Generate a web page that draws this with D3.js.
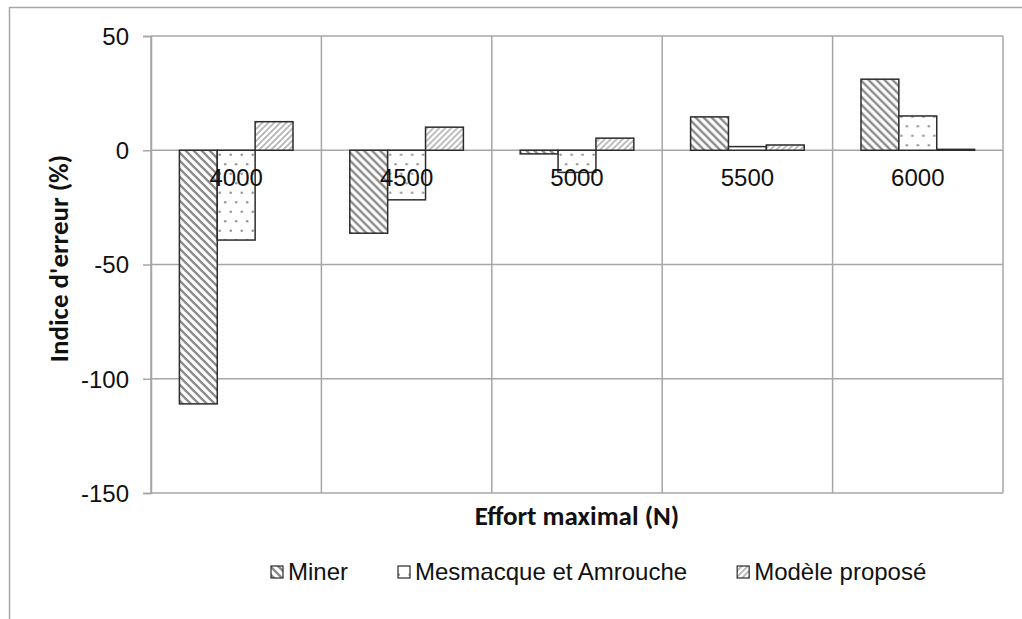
<!DOCTYPE html>
<html>
<head>
<meta charset="utf-8">
<script src="https://cdn.jsdelivr.net/npm/d3@7"></script>
<style>
  body { margin: 0; background: #fff; }
  svg { display: block; }
  .tick-label, .cat-label, .legend-label { font-family: 'Liberation Sans', Arial, sans-serif; font-size: 24px; fill: #111; }
  .axis-title { font-family: Carlito, Lato, 'Liberation Sans', sans-serif; font-weight: bold; font-size: 27px; fill: #111; }
</style>
</head>
<body>
<div id="chart"></div>
<script>
// Values
const categories = ['4000', '4500', '5000', '5500', '6000'];
const seriesNames = ['Miner', 'Mesmacque et Amrouche', 'Modèle proposé'];
const minerValues = [-111, -36.3, -1.6, 14.6, 31.1];
const mesmacqueValues = [-39.3, -21.7, -9.7, 1.6, 15.0];
const modeleValues = [12.5, 10.1, 5.3, 2.3, 0.4];
const yTicks = [50, 0, -50, -100, -150];

class GroupedBarChart {
    constructor(config) {
        this.config = {
            parentElement: config.parentElement,
            containerWidth: 1022,
            containerHeight: 619,
            margin: { top: 36, right: 19, bottom: 126, left: 151 }
        };
        this.initVis();
    }

    initVis() {
        let vis = this;

        vis.width = vis.config.containerWidth - vis.config.margin.left - vis.config.margin.right;
        vis.height = vis.config.containerHeight - vis.config.margin.top - vis.config.margin.bottom;

        vis.svg = d3.select(vis.config.parentElement)
            .append('svg')
            .attr('width', vis.config.containerWidth)
            .attr('height', vis.config.containerHeight);

        // Fill patterns (Excel style hatching)
        const defs = vis.svg.append('defs');

        const p0 = defs.append('pattern')
            .attr('id', 'pat-miner')
            .attr('patternUnits', 'userSpaceOnUse')
            .attr('width', 8).attr('height', 8);
        p0.append('rect').attr('width', 8).attr('height', 8).attr('fill', '#fff');
        p0.append('path')
            .attr('d', 'M0,0 L8,8 M-4,4 L4,12 M4,-4 L12,4')
            .attr('stroke', '#8c8c8c')
            .attr('stroke-width', 2.4);

        const p1 = defs.append('pattern')
            .attr('id', 'pat-mesmacque')
            .attr('patternUnits', 'userSpaceOnUse')
            .attr('width', 11).attr('height', 19);
        p1.append('rect').attr('width', 11).attr('height', 19).attr('fill', '#fff');
        p1.append('circle').attr('cx', 2.75).attr('cy', 4.75).attr('r', 1.3).attr('fill', '#999');
        p1.append('circle').attr('cx', 8.25).attr('cy', 14.25).attr('r', 1.3).attr('fill', '#999');

        const p2 = defs.append('pattern')
            .attr('id', 'pat-modele')
            .attr('patternUnits', 'userSpaceOnUse')
            .attr('width', 6).attr('height', 6);
        p2.append('rect').attr('width', 6).attr('height', 6).attr('fill', '#fff');
        p2.append('path')
            .attr('d', 'M0,6 L6,0 M-3,3 L3,-3 M3,9 L9,3')
            .attr('stroke', '#b3b3b3')
            .attr('stroke-width', 1.6);

        vis.fills = ['url(#pat-miner)', 'url(#pat-mesmacque)', 'url(#pat-modele)'];

        // Outer chart border (cropped on right and bottom)
        vis.svg.append('rect')
            .attr('x', 9.5).attr('y', 7.5)
            .attr('width', 1100).attr('height', 700)
            .attr('fill', 'none')
            .attr('stroke', '#a6a6a6')
            .attr('stroke-width', 1.5);

        vis.chart = vis.svg.append('g')
            .attr('transform', `translate(${vis.config.margin.left},${vis.config.margin.top})`);

        vis.xScale = d3.scaleBand()
            .domain(categories)
            .range([0, vis.width])
            .padding(0);

        vis.xSub = d3.scaleBand()
            .domain(seriesNames)
            .range([0, vis.xScale.bandwidth()])
            .paddingInner(0)
            .paddingOuter(0.75);

        vis.yScale = d3.scaleLinear()
            .domain([-150, 50])
            .range([vis.height, 0]);

        vis.yAxis = d3.axisLeft(vis.yScale)
            .tickValues(yTicks)
            .tickSize(8)
            .tickPadding(14)
            .tickFormat(d => String(d));

        vis.gridG = vis.chart.append('g').attr('class', 'grid');
        vis.barsG = vis.chart.append('g').attr('class', 'bars');
        vis.yAxisG = vis.chart.append('g').attr('class', 'axis y-axis');
        vis.labelsG = vis.chart.append('g').attr('class', 'cat-labels');
        vis.legend = vis.svg.append('g').attr('class', 'legend');

        vis.data = categories.map((c, i) => ({
            category: c,
            values: seriesNames.map((s, j) => ({
                series: s,
                index: j,
                value: [minerValues, mesmacqueValues, modeleValues][j][i]
            }))
        }));

        vis.renderVis();
    }

    renderVis() {
        let vis = this;
        const gridColor = '#a6a6a6';

        // Horizontal gridlines
        vis.gridG.selectAll('.hgrid')
            .data(yTicks)
            .join('line')
            .attr('class', 'hgrid')
            .attr('x1', 0).attr('x2', vis.width)
            .attr('y1', d => vis.yScale(d)).attr('y2', d => vis.yScale(d))
            .attr('stroke', gridColor)
            .attr('stroke-width', 1.5);

        // Vertical gridlines at category boundaries
        const bounds = categories.map(c => vis.xScale(c)).concat([vis.width]);
        vis.gridG.selectAll('.vgrid')
            .data(bounds)
            .join('line')
            .attr('class', 'vgrid')
            .attr('x1', d => d).attr('x2', d => d)
            .attr('y1', 0).attr('y2', vis.height)
            .attr('stroke', gridColor)
            .attr('stroke-width', 1.5);

        // Bars
        const groups = vis.barsG.selectAll('.group')
            .data(vis.data)
            .join('g')
            .attr('class', 'group')
            .attr('transform', d => `translate(${vis.xScale(d.category)},0)`);

        groups.selectAll('rect')
            .data(d => d.values)
            .join('rect')
            .attr('x', d => vis.xSub(d.series))
            .attr('width', vis.xSub.bandwidth())
            .attr('y', d => vis.yScale(Math.max(0, d.value)))
            .attr('height', d => Math.abs(vis.yScale(d.value) - vis.yScale(0)))
            .attr('fill', d => vis.fills[d.index])
            .attr('stroke', '#2b2b2b')
            .attr('stroke-width', 1.5);

        // Y axis
        vis.yAxisG.call(vis.yAxis)
            .call(g => g.select('.domain').attr('stroke', gridColor).attr('stroke-width', 1.5))
            .call(g => g.selectAll('.tick line').attr('stroke', gridColor).attr('stroke-width', 1.5))
            .call(g => g.selectAll('.tick text')
                .attr('class', 'tick-label')
                .attr('font-family', null).attr('font-size', null)
                .attr('dy', '0.35em'));
        vis.yAxisG.attr('font-family', null).attr('font-size', null);

        // Category labels next to the zero line
        vis.labelsG.selectAll('.cat-label')
            .data(categories)
            .join('text')
            .attr('class', 'cat-label')
            .attr('x', d => vis.xScale(d) + vis.xScale.bandwidth() / 2)
            .attr('y', vis.yScale(0) + 36)
            .attr('text-anchor', 'middle')
            .text(d => d);

        // Axis titles
        vis.svg.append('text')
            .attr('class', 'axis-title')
            .attr('x', vis.config.margin.left + vis.width / 2)
            .attr('y', 525)
            .attr('text-anchor', 'middle')
            .text('Effort maximal  (N)');

        vis.svg.append('text')
            .attr('class', 'axis-title')
            .attr('transform', `translate(68,${vis.config.margin.top + vis.height / 2 - 6}) rotate(-90)`)
            .attr('text-anchor', 'middle')
            .text('Indice d\'erreur (%)');

        // Legend
        let xPos = 271;
        seriesNames.forEach((name, i) => {
            const item = vis.legend.append('g');
            item.append('rect')
                .attr('x', xPos).attr('y', 566)
                .attr('width', 12).attr('height', 12)
                .attr('fill', vis.fills[i])
                .attr('stroke', '#2b2b2b')
                .attr('stroke-width', 1.2);
            const label = item.append('text')
                .attr('class', 'legend-label')
                .attr('x', xPos + 17)
                .attr('y', 580)
                .text(name);
            xPos += 17 + label.node().getComputedTextLength() + 50;
        });
    }
}

const chart = new GroupedBarChart({ parentElement: '#chart' });
</script>
</body>
</html>
